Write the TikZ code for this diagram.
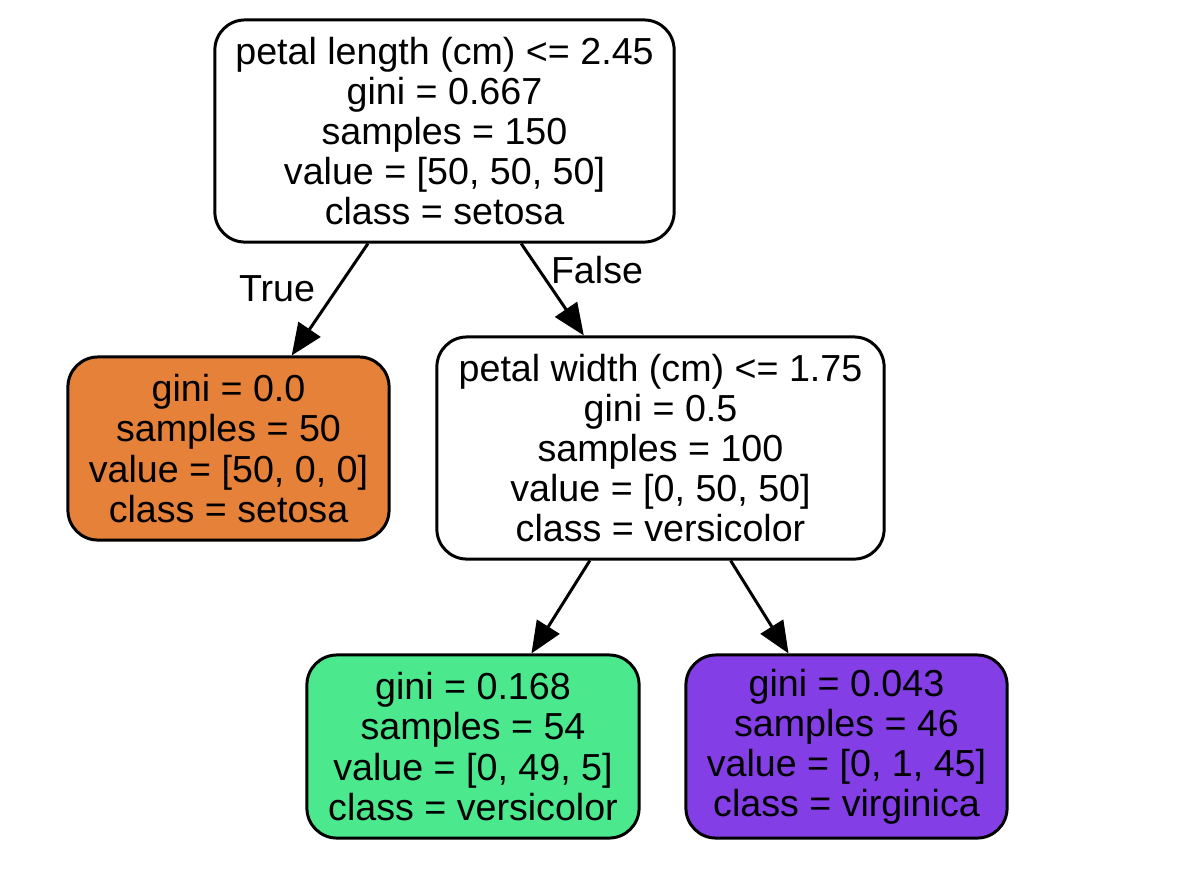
\documentclass[tikz,border=0pt]{standalone}
\usepackage{fontspec}
\setmainfont{Liberation Sans}
\usetikzlibrary{arrows.meta}
\definecolor{setosaC}{HTML}{E58139}
\definecolor{versiC}{HTML}{4BE88E}
\definecolor{virgiC}{HTML}{843EE6}
\tikzset{
  treenode/.style={draw=black, line width=0.85pt, rounded corners=0.3cm,
    align=center, inner sep=0pt, font=\fontsize{10.7}{11.4}\selectfont},
  edge/.style={draw=black, line width=0.85pt,
    -{Triangle[length=9pt,width=7.5pt]}},
  edgelabel/.style={font=\fontsize{10.7}{11.4}\selectfont}
}
\begin{document}
\begin{tikzpicture}[x=0.01cm,y=-0.01cm]
\useasboundingbox (0,0) rectangle (1200,872);
\node[treenode, fill=white, minimum width=4.59cm, minimum height=2.22cm] (root) at (444.5,131)
  {petal length (cm) <= 2.45\\gini = 0.667\\samples = 150\\value = [50, 50, 50]\\class = setosa};
\node[treenode, fill=setosaC, minimum width=3.21cm, minimum height=1.83cm] (leafA) at (228.5,448.5)
  {gini = 0.0\\samples = 50\\value = [50, 0, 0]\\class = setosa};
\node[treenode, fill=white, minimum width=4.47cm, minimum height=2.22cm] (mid) at (660.5,448)
  {petal width (cm) <= 1.75\\gini = 0.5\\samples = 100\\value = [0, 50, 50]\\class = versicolor};
\node[treenode, fill=versiC, minimum width=3.32cm, minimum height=1.83cm] (leafB) at (473,746.5)
  {gini = 0.168\\samples = 54\\value = [0, 49, 5]\\class = versicolor};
\node[treenode, fill=virgiC, minimum width=3.21cm, minimum height=1.83cm] (leafC) at (846.5,746.5)
  {gini = 0.043\\samples = 46\\value = [0, 1, 45]\\class = virginica};
\draw[edge] (root) -- (leafA);
\draw[edge] (root) -- (mid);
\draw[edge] (mid) -- (leafB);
\draw[edge] (mid) -- (leafC);
\node[edgelabel] (lblTrue) at (277,289) {True};
\node[edgelabel] (lblFalse) at (597,270) {False};
\end{tikzpicture}
\end{document}
